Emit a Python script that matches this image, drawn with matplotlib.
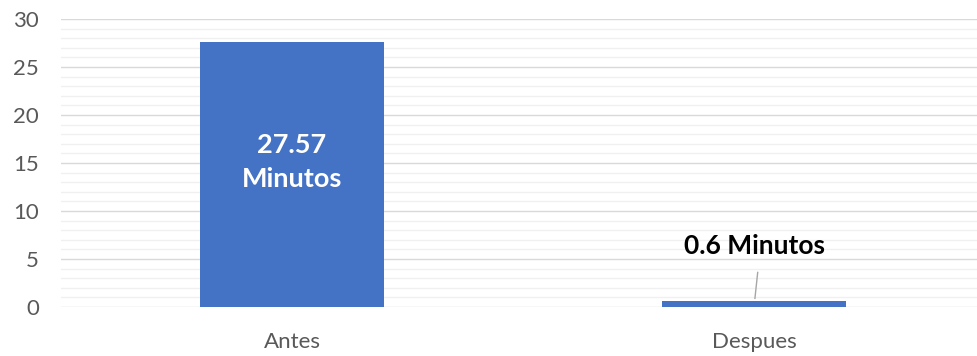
import numpy as np
import matplotlib.pyplot as plt
from matplotlib.ticker import MultipleLocator

categories = ["Antes", "Despues"]
values = [27.57, 0.6]
labels = ["27.57\nMinutos", "0.6 Minutos"]

plt.rcParams['font.family'] = ['Lato', 'DejaVu Sans']

fig = plt.figure(figsize=(9.77, 3.56), dpi=100)
ax = fig.add_axes([61 / 977, 49 / 356, 1 - 61 / 977, 288 / 356])

x = np.arange(len(categories))
ax.bar(x, values, width=184 / 462, color="#4472C4", zorder=3)

ax.set_xlim(-0.5, -0.5 + 916 / 462)
ax.set_ylim(0, 30)
ax.yaxis.set_major_locator(MultipleLocator(5))
ax.yaxis.set_minor_locator(MultipleLocator(1))
ax.grid(axis='y', which='major', color="#d9d9d9", linewidth=1.0, zorder=0)
ax.grid(axis='y', which='minor', color="#f0f0f0", linewidth=1.0, zorder=0)
ax.set_axisbelow(True)

for s in ax.spines.values():
    s.set_visible(False)
ax.tick_params(axis='both', which='both', length=0, colors="#595959", labelsize=16)
ax.tick_params(axis='x', pad=18)
ax.tick_params(axis='y', pad=16)
ax.set_xticks(x)
ax.set_xticklabels(categories)

# etiquetas de datos
ax.text(x[0], 15.1, labels[0], ha='center', va='center', color='white',
        fontsize=19.5, fontweight='bold', linespacing=1.5)
ax.text(x[1], 6.4, labels[1], ha='center', va='center', color='black',
        fontsize=19, fontweight='bold')
ax.plot([x[1] + 0.002, x[1] + 0.008], [0.9, 3.6], color="#a6a6a6", linewidth=1, zorder=4)

fig.savefig("out.png", dpi=100)
